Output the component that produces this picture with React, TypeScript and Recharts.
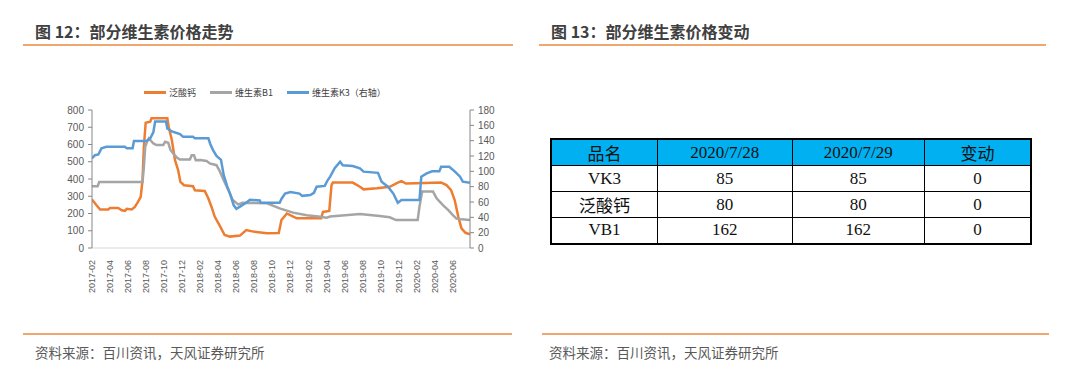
import React from 'react'
import { LineChart, Line, XAxis, YAxis } from 'recharts'

// x = months since 2017-02
const tickMonths = [0, 2, 4, 6, 8, 10, 12, 14, 16, 18, 20, 22, 24, 26, 28, 30, 32, 34, 36, 38, 40]
const tickLabels = [
  '2017-02', '2017-04', '2017-06', '2017-08', '2017-10', '2017-12',
  '2018-02', '2018-04', '2018-06', '2018-08', '2018-10', '2018-12',
  '2019-02', '2019-04', '2019-06', '2019-08', '2019-10', '2019-12',
  '2020-02', '2020-04', '2020-06',
]
const leftTicks = [0, 100, 200, 300, 400, 500, 600, 700, 800]
const rightTicks = [0, 20, 40, 60, 80, 100, 120, 140, 160, 180]

// 泛酸钙
const panPoints: [number, number][] = [
  [0, 281], [0.5, 248], [0.9, 223], [1.8, 223], [2.0, 232], [2.9, 232], [3.3, 219], [3.65, 215],
  [3.85, 227], [4.4, 223], [4.75, 238], [5.1, 267], [5.4, 296], [5.6, 393], [5.75, 587], [5.95, 726],
  [6.45, 732], [6.6, 752], [8.35, 752], [8.5, 703], [8.85, 626], [9.2, 509], [9.55, 451], [9.8, 383],
  [10.2, 364], [11.2, 358], [11.4, 335], [12.5, 331], [12.9, 287], [13.25, 238], [13.6, 182], [14.2, 125],
  [14.7, 75], [15.3, 66], [16.4, 72], [17.1, 104], [17.9, 95], [19.4, 85], [20.7, 87], [21.0, 162],
  [21.6, 200], [22.3, 182], [22.7, 172], [25.4, 172], [25.6, 209], [26.3, 215], [26.55, 365], [26.7, 379],
  [28.9, 379], [29.7, 355], [30.1, 340], [31.6, 346], [33.0, 355], [33.9, 379], [34.3, 388], [34.8, 374],
  [35.9, 375], [38.7, 379], [39.3, 365], [39.8, 336], [40.2, 278], [40.6, 182], [40.95, 114], [41.4, 88],
  [41.9, 80],
]

// 维生素B1
const b1Points: [number, number][] = [
  [0, 358], [0.63, 358], [0.8, 383], [5.6, 383], [5.75, 470], [5.9, 587], [6.1, 616], [6.3, 635],
  [6.8, 606], [7.15, 597], [7.9, 597], [8.1, 616], [8.45, 610], [8.7, 568], [9.0, 548], [9.4, 525],
  [9.75, 513], [10.85, 513], [11.05, 538], [11.3, 538], [11.5, 509], [12.0, 510], [12.7, 505], [13.05, 490],
  [13.8, 480], [14.1, 452], [14.6, 393], [15.1, 336], [15.6, 278], [16.2, 253], [16.7, 262], [19.4, 259],
  [20.8, 230], [22.3, 205], [23.8, 190], [25.1, 182], [26.0, 176], [26.4, 182], [29.7, 197], [31.9, 186],
  [33.0, 178], [33.7, 162], [36.1, 162], [36.3, 240], [36.6, 327], [37.8, 327], [38.2, 288], [38.9, 249],
  [39.5, 220], [40.0, 191], [40.4, 170], [40.95, 166], [41.9, 162],
]

// 维生素K3 (right axis)
const k3Points: [number, number][] = [
  [0, 117], [0.33, 121], [0.7, 122], [1.05, 130], [1.6, 132], [3.65, 132], [3.85, 130], [4.5, 130],
  [4.65, 139.5], [6.05, 139.5], [6.45, 143], [6.8, 151], [7.0, 165], [8.2, 165], [8.35, 156], [8.85, 152],
  [9.75, 148.6], [10.1, 145], [11.2, 145], [11.4, 143], [12.9, 143], [13.1, 136], [13.4, 128], [13.8, 120],
  [14.3, 115], [14.6, 95], [15.0, 80], [15.3, 71], [15.7, 56], [16.0, 51], [16.4, 54], [17.2, 60],
  [17.5, 63], [18.6, 62], [18.7, 59], [20.8, 59], [21.0, 64], [21.4, 71], [22.0, 73], [23.0, 71],
  [23.3, 68], [24.2, 69], [24.6, 72], [24.9, 80], [25.8, 81], [26.1, 88], [26.4, 93], [26.9, 104],
  [27.5, 112.6], [27.8, 108], [28.9, 107], [29.7, 104], [30.1, 99.6], [31.7, 98], [32.1, 86.5], [32.8, 80],
  [33.4, 71], [33.9, 59], [34.3, 62.6], [36.3, 62.6], [36.5, 93], [37.1, 97.4], [37.7, 100], [38.5, 100],
  [38.7, 106], [39.6, 106], [40.2, 100], [40.8, 93], [41.1, 86.5], [41.9, 85],
]

const tableHead = ['品名', '2020/7/28', '2020/7/29', '变动']
const tableRows = [
  ['VK3', '85', '85', '0'],
  ['泛酸钙', '80', '80', '0'],
  ['VB1', '162', '162', '0'],
]

const toData = (pts: [number, number][]) => pts.map(([m, v]) => ({ m, v }))

const sans = '"Liberation Sans", "Noto Sans CJK SC", sans-serif'
const cjk = '"Noto Sans CJK SC", sans-serif'
const lineColor = '#EFA66F'

const XTick = (props: any) => {
  const { x, y, payload } = props
  const label = tickLabels[tickMonths.indexOf(payload.value)]
  return (
    <g transform={`translate(${x},${y + 4})`}>
      <text textAnchor="end" dominantBaseline="central" transform="rotate(-90)"
        fontSize={9} fill="#595959" fontFamily={sans}>{label}</text>
    </g>
  )
}

const legendItems = [
  { name: '泛酸钙', color: '#ED7D31' },
  { name: '维生素B1', color: '#A5A5A5' },
  { name: '维生素K3（右轴）', color: '#5B9BD5' },
]

const cell = {
  border: '1.5px solid #000',
  padding: 0,
  textAlign: 'center' as const,
  fontFamily: '"Liberation Serif", "Noto Sans CJK SC", serif',
  fontSize: 17,
  color: '#111',
}

const App = () => {
  return (
    <div style={{ position: 'absolute', left: 0, top: 0, width: 1080, height: 375, background: '#fff', overflow: 'hidden' }}>
      {/* left panel */}
      <div style={{ position: 'absolute', left: 35, top: 20, fontFamily: cjk, fontWeight: 700, fontSize: 16, lineHeight: '22px', color: '#404040' }}>
        图 12：部分维生素价格走势
      </div>
      <div style={{ position: 'absolute', left: 23, top: 44, width: 490, height: 2, background: lineColor }} />

      <div style={{ position: 'absolute', left: 144, top: 86, display: 'flex', alignItems: 'center', fontFamily: cjk, fontSize: 9, color: '#404040', whiteSpace: 'nowrap' }}>
        {legendItems.map((it) => (
          <div key={it.name} style={{ display: 'flex', alignItems: 'center', marginRight: 14 }}>
            <span style={{ display: 'inline-block', width: 22, height: 3, background: it.color, marginRight: 3 }} />
            <span>{it.name}</span>
          </div>
        ))}
      </div>

      <div style={{ position: 'absolute', left: 0, top: 0 }}>
        <LineChart width={540} height={300} margin={{ top: 110, right: 35, bottom: 7, left: 52 }}>
          <XAxis dataKey="m" type="number" domain={[0, 41.9]} ticks={tickMonths} interval={0}
            tick={<XTick />} height={45} axisLine={{ stroke: '#d9d9d9' }} tickLine={false} allowDataOverflow />
          <YAxis yAxisId="left" domain={[0, 800]} ticks={leftTicks} interval={0} width={40} tickSize={4} tickMargin={4}
            tick={{ fontSize: 10, fill: '#595959', fontFamily: sans }} axisLine={{ stroke: '#868686' }} tickLine={{ stroke: '#868686' }} />
          <YAxis yAxisId="right" orientation="right" domain={[0, 180]} ticks={rightTicks} interval={0} width={35} tickSize={4} tickMargin={4}
            tick={{ fontSize: 10, fill: '#595959', fontFamily: sans }} axisLine={{ stroke: '#868686' }} tickLine={{ stroke: '#868686' }} />
          <Line data={toData(panPoints)} dataKey="v" yAxisId="left" type="linear" stroke="#ED7D31" strokeWidth={2.5} dot={false} isAnimationActive={false} />
          <Line data={toData(b1Points)} dataKey="v" yAxisId="left" type="linear" stroke="#A5A5A5" strokeWidth={2.5} dot={false} isAnimationActive={false} />
          <Line data={toData(k3Points)} dataKey="v" yAxisId="right" type="linear" stroke="#5B9BD5" strokeWidth={2.5} dot={false} isAnimationActive={false} />
        </LineChart>
      </div>

      <div style={{ position: 'absolute', left: 23, top: 333, width: 489, height: 2, background: lineColor }} />
      <div style={{ position: 'absolute', left: 35, top: 343, fontFamily: cjk, fontSize: 13.5, lineHeight: '18px', color: '#595959' }}>
        资料来源：百川资讯，天风证券研究所
      </div>

      {/* right panel */}
      <div style={{ position: 'absolute', left: 551, top: 20, fontFamily: cjk, fontWeight: 700, fontSize: 16, lineHeight: '22px', color: '#404040' }}>
        图 13：部分维生素价格变动
      </div>
      <div style={{ position: 'absolute', left: 539, top: 44, width: 507, height: 2, background: lineColor }} />

      <table style={{ position: 'absolute', left: 550, top: 138, width: 482, borderCollapse: 'collapse', border: '2px solid #000' }}>
        <colgroup>
          <col style={{ width: 107 }} />
          <col style={{ width: 135 }} />
          <col style={{ width: 133 }} />
          <col style={{ width: 107 }} />
        </colgroup>
        <thead>
          <tr style={{ height: 25, background: '#00B0F0' }}>
            {tableHead.map((h) => <th key={h} style={{ ...cell, fontWeight: 400 }}>{h}</th>)}
          </tr>
        </thead>
        <tbody>
          {tableRows.map((r) => (
            <tr key={r[0]} style={{ height: 26 }}>
              {r.map((c, i) => <td key={i} style={cell}>{c}</td>)}
            </tr>
          ))}
        </tbody>
      </table>

      <div style={{ position: 'absolute', left: 542, top: 333, width: 507, height: 2, background: lineColor }} />
      <div style={{ position: 'absolute', left: 549, top: 343, fontFamily: cjk, fontSize: 13.5, lineHeight: '18px', color: '#595959' }}>
        资料来源：百川资讯，天风证券研究所
      </div>
    </div>
  )
}

export default App
